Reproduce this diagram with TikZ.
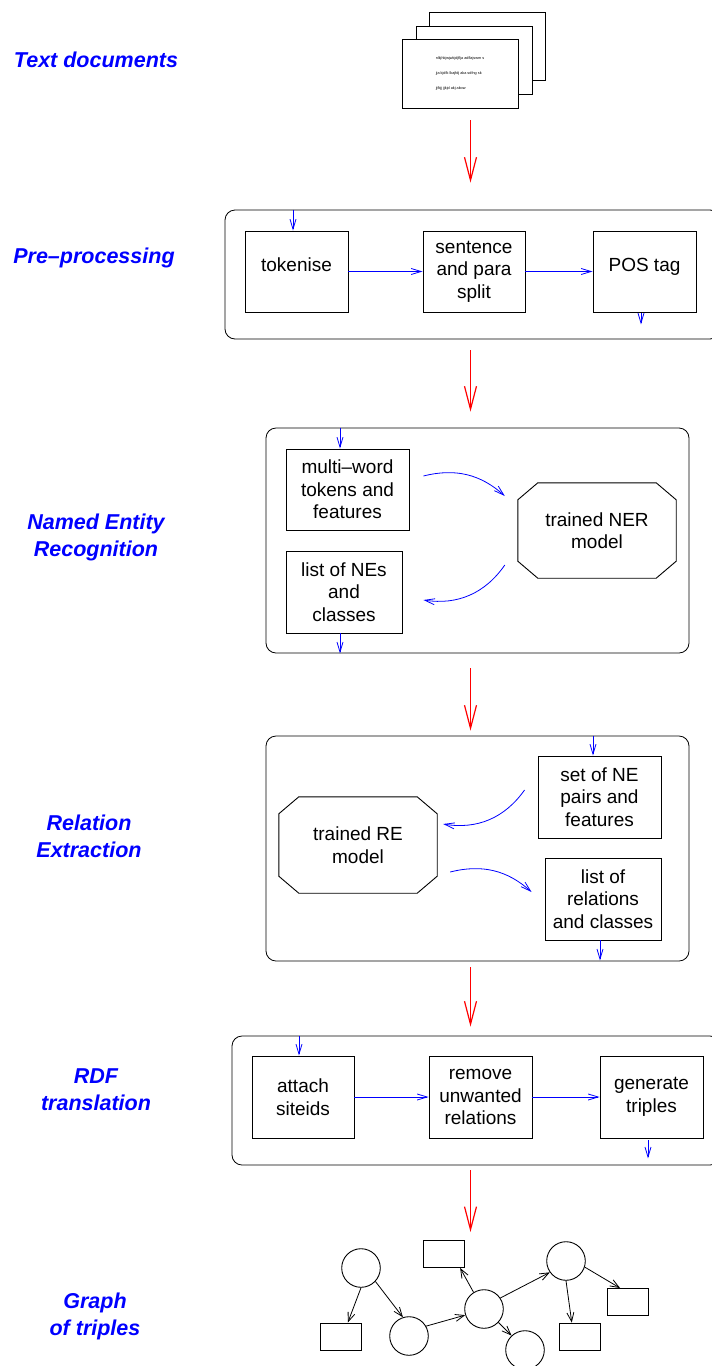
\documentclass[tikz,border=0pt]{standalone}
\usepackage{fontspec}
\setmainfont{Liberation Sans}
\usetikzlibrary{arrows.meta,calc}
\newcommand\octpath[1]{%
  \draw[line width=0.9pt] ($(#1.north west)+(20,0)$) -- ($(#1.north east)+(-20,0)$) -- ($(#1.north east)+(0,17)$) -- ($(#1.south east)+(0,-17)$) -- ($(#1.south east)+(-20,0)$) -- ($(#1.south west)+(20,0)$) -- ($(#1.south west)+(0,-17)$) -- ($(#1.north west)+(0,17)$) -- cycle;}
\begin{document}
\begin{tikzpicture}[x=1pt,y=-1pt,
  lab/.style={text=blue, font=\fontsize{21.5}{27}\selectfont\bfseries\itshape, align=center, anchor=base, inner sep=0pt},
  stage/.style={draw, line width=0.8pt, rounded corners=10pt, inner sep=0pt},
  stepbox/.style={draw, line width=0.9pt, align=center, inner sep=0pt, font=\fontsize{19}{22.5}\selectfont},
  oneline/.style={text height=13.5pt, text depth=13pt},
  octbox/.style={align=center, inner sep=0pt, font=\fontsize{19}{22.5}\selectfont, minimum width=158pt, minimum height=95pt},
  sheet/.style={draw, fill=white, line width=0.9pt, inner sep=0pt, minimum width=116pt, minimum height=68pt},
  redarr/.style={draw=red, line width=1.2pt, -{Straight Barb[length=23pt,width=12pt]}},
  bluearr/.style={draw=blue, line width=0.8pt, -{Straight Barb[length=10pt,width=6pt]}},
  garr/.style={draw=black, line width=0.8pt, -{Straight Barb[length=9pt,width=7pt]}},
  gnode/.style={circle, draw, line width=0.9pt, minimum size=38.6pt, inner sep=0pt},
  gbox/.style={rectangle, draw, line width=0.9pt, minimum width=41pt, minimum height=27pt, inner sep=0pt},
]
\useasboundingbox (0,0) rectangle (712,1366);
\clip (0,0) rectangle (712,1366);
\fill[white] (0,0) rectangle (712,1366);

% left labels (anchor = baseline of the last line)
\node[lab] (l1) at (96,67) {Text documents};
\node[lab] (l2) at (94,263) {Pre–processing};
\node[lab] (l3) at (96,556) {Named Entity\\Recognition};
\node[lab] (l4) at (89,857) {Relation\\Extraction};
\node[lab] (l5) at (96,1110) {RDF\\translation};
\node[lab] (l6) at (95,1335) {Graph\\of triples};

% document stack
\node[sheet] (doc3) at (487.5,46) {};
\node[sheet] (doc2) at (474,60) {};
\node[sheet, minimum height=69pt, align=left, font=\fontsize{3.8}{15}\selectfont] (doc1) at (460,73.5)
  {nlkjhkjwjwkjdjflja adflajswm s\\jja kjdfk lkajfdj aka sdfng sk\\jjfkjj jjkjd akj akow};

% stage containers
\node[stage, minimum width=495pt, minimum height=129pt] (pre) at (472.5,274.5) {};
\node[stage, minimum width=423pt, minimum height=225pt] (ner) at (477.5,540.5) {};
\node[stage, minimum width=423pt, minimum height=225pt] (re) at (477.5,848.5) {};
\node[stage, minimum width=488pt, minimum height=129pt] (rdf) at (476,1100.5) {};

% pre-processing
\node[stepbox, oneline, minimum width=103pt, minimum height=81pt] (tok) at (296.5,271.5) {tokenise};
\node[stepbox, minimum width=102pt, minimum height=81pt] (sent) at (474,271.5) {sentence\\and para\\split};
\node[stepbox, oneline, minimum width=103pt, minimum height=81pt] (pos) at (644.5,271.5) {POS tag};
\draw[bluearr] ($(tok.north)+(-3.5,-21)$) -- ($(tok.north)+(-3.5,0)$);
\draw[bluearr] (tok.east) -- (sent.west);
\draw[bluearr] (sent.east) -- (pos.west);
\draw[bluearr] ($(pos.south)+(-3.5,1)$) -- ($(pos.south)+(-3.5,12)$);

% NER
\node[stepbox, minimum width=123pt, minimum height=81pt] (mw) at (347.5,489.5) {multi–word\\tokens and\\features};
\node[stepbox, minimum width=116pt, minimum height=82pt] (nes) at (344,592) {list of NEs\\and\\classes};
\node[octbox] (nermodel) at (597,530.5) {trained NER\\model};
\octpath{nermodel}
\draw[bluearr] ($(mw.north)+(-7.5,-21)$) -- ($(mw.north)+(-7.5,0)$);
\draw[bluearr] ($(nes.south)+(-4,0)$) -- ($(nes.south)+(-4,20)$);
\draw[bluearr] ($(mw.east)+(14,-13.5)$) to[bend left=28] ($(nermodel.west)+(-13,-34.5)$);
\draw[bluearr] ($(nermodel.west)+(-13,34.5)$) to[bend left=32] ($(nes.east)+(21,8)$);

% RE
\node[stepbox, minimum width=123pt, minimum height=82pt] (setne) at (599.5,797) {set of NE\\pairs and\\features};
\node[stepbox, minimum width=116pt, minimum height=82pt] (listrel) at (603,899) {list of\\relations\\and classes};
\node[octbox, minimum height=96pt] (remodel) at (358,845) {trained RE\\model};
\octpath{remodel}
\draw[bluearr] ($(setne.north)+(-6.5,-20)$) -- ($(setne.north)+(-6.5,0)$);
\draw[bluearr] ($(listrel.south)+(-3,0)$) -- ($(listrel.south)+(-3,20)$);
\draw[bluearr] ($(setne.west)+(-13,-7)$) to[bend left=32] ($(remodel.east)+(6,-21)$);
\draw[bluearr] ($(remodel.east)+(13,27)$) to[bend left=28] ($(listrel.west)+(-13,-7)$);

% RDF
\node[stepbox, minimum width=102pt, minimum height=82pt] (attach) at (303,1097) {attach\\siteids};
\node[stepbox, minimum width=103pt, minimum height=82pt] (remove) at (480.5,1097) {remove\\unwanted\\relations};
\node[stepbox, minimum width=103pt, minimum height=82pt] (gen) at (651.5,1097) {generate\\triples};
\draw[bluearr] ($(attach.north)+(-4,-20)$) -- ($(attach.north)+(-4,0)$);
\draw[bluearr] (attach.east) -- (remove.west);
\draw[bluearr] (remove.east) -- (gen.west);
\draw[bluearr] ($(gen.south)+(-3.5,2)$) -- ($(gen.south)+(-3.5,20)$);

% graph of triples
\node[gnode] (c1) at (361,1268) {};
\node[gnode] (c2) at (409,1336) {};
\node[gnode] (c3) at (484,1309) {};
\node[gnode] (c4) at (525,1350) {};
\node[gnode] (c5) at (566,1261) {};
\node[gbox] (r1) at (341,1336.5) {};
\node[gbox] (r2) at (443.5,1254) {};
\node[gbox] (r3) at (579.5,1336.5) {};
\node[gbox] (r4) at (627.5,1302) {};
\draw[garr] (c1.-90) -- (r1.64);
\draw[garr] (c1.-43) -- (c2.108);
\draw[garr] (c2.30) -- (c3.198);
\draw[garr] (c3.122) -- (r2.-40);
\draw[garr] (c3.-43) -- (c4.133);
\draw[garr] (c3.34) -- (c5.215);
\draw[garr] (c5.-90) -- (r3.119);
\draw[garr] (c5.-18) -- (r4.118);

% red flow arrows
\coordinate (redx) at (470.5,0);
\coordinate (graphtop) at (470.5,1232);
\draw[redarr, shorten <=12pt, shorten >=27pt] (doc1.south -| redx) -- (pre.north -| redx);
\draw[redarr, shorten <=11pt, shorten >=16pt] (pre.south -| redx) -- (ner.north -| redx);
\draw[redarr, shorten <=15pt, shorten >=5pt] (ner.south -| redx) -- (re.north -| redx);
\draw[redarr, shorten <=6pt, shorten >=9pt] (re.south -| redx) -- (rdf.north -| redx);
\draw[redarr, shorten <=5pt] (rdf.south -| redx) -- (graphtop);
\end{tikzpicture}
\end{document}
